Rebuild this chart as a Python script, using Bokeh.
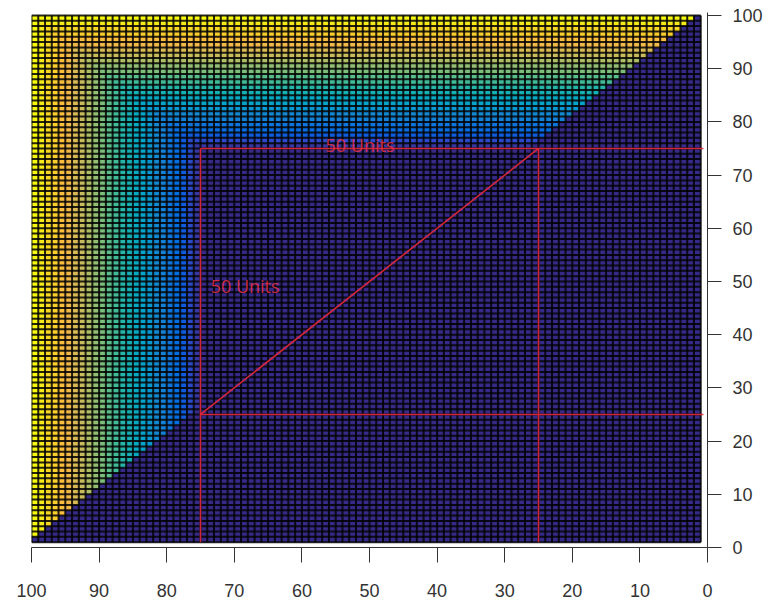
import numpy as np
from bokeh.plotting import figure
from bokeh.models import Range1d, LinearAxis, FixedTicker, LinearColorMapper, ColumnDataSource
from bokeh.core.properties import value
from bokeh.embed import file_html
from bokeh.resources import INLINE

# ---------------- data ----------------
# mesh vertex coordinates (surface drawn on a 1..100 grid)
mesh_x = list(range(1, 101))
mesh_y = list(range(1, 101))
# guide square (red) limits
square_lo = 25
square_hi = 75
# colour scale limits (distance beyond the square edge)
level_low = 0
level_high = 25
# diagonal that separates the coloured triangle from the dark one
diag_sum = 101
# axis ticks
x_ticks = [0, 10, 20, 30, 40, 50, 60, 70, 80, 90, 100]
y_ticks = [0, 10, 20, 30, 40, 50, 60, 70, 80, 90, 100]
# red guide lines
guide_xs = [[75, 75], [25, 25], [75, 0.6], [75, 0.6], [75, 25]]
guide_ys = [[1, 75], [1, 75], [75, 75], [25, 25], [25, 75]]
# annotations
note_text = ["50 Units", "50 Units"]
note_x = [56.5, 73.5]
note_y = [75.7, 49.1]

# ---------------- parula colormap ----------------
parula_rgb = [
    [0.2081, 0.1663, 0.5292], [0.2116, 0.1898, 0.5777], [0.2123, 0.2138, 0.6270], [0.2081, 0.2386, 0.6771],
    [0.1959, 0.2645, 0.7279], [0.1707, 0.2919, 0.7792], [0.1253, 0.3242, 0.8303], [0.0591, 0.3598, 0.8683],
    [0.0117, 0.3875, 0.8820], [0.0060, 0.4086, 0.8828], [0.0165, 0.4266, 0.8786], [0.0329, 0.4430, 0.8720],
    [0.0498, 0.4586, 0.8641], [0.0629, 0.4737, 0.8554], [0.0723, 0.4887, 0.8467], [0.0779, 0.5040, 0.8384],
    [0.0793, 0.5200, 0.8312], [0.0749, 0.5375, 0.8263], [0.0641, 0.5570, 0.8240], [0.0488, 0.5772, 0.8228],
    [0.0343, 0.5966, 0.8199], [0.0265, 0.6137, 0.8135], [0.0239, 0.6287, 0.8038], [0.0231, 0.6418, 0.7913],
    [0.0228, 0.6535, 0.7768], [0.0267, 0.6642, 0.7607], [0.0384, 0.6743, 0.7436], [0.0590, 0.6838, 0.7254],
    [0.0843, 0.6928, 0.7062], [0.1133, 0.7015, 0.6859], [0.1453, 0.7098, 0.6646], [0.1801, 0.7177, 0.6424],
    [0.2178, 0.7250, 0.6193], [0.2586, 0.7317, 0.5954], [0.3022, 0.7376, 0.5712], [0.3482, 0.7424, 0.5473],
    [0.3953, 0.7459, 0.5244], [0.4420, 0.7481, 0.5033], [0.4871, 0.7491, 0.4840], [0.5300, 0.7491, 0.4661],
    [0.5709, 0.7485, 0.4494], [0.6099, 0.7473, 0.4337], [0.6473, 0.7456, 0.4188], [0.6834, 0.7435, 0.4044],
    [0.7184, 0.7411, 0.3905], [0.7525, 0.7384, 0.3768], [0.7858, 0.7356, 0.3633], [0.8185, 0.7327, 0.3498],
    [0.8507, 0.7299, 0.3360], [0.8824, 0.7274, 0.3217], [0.9139, 0.7258, 0.3063], [0.9450, 0.7261, 0.2886],
    [0.9739, 0.7314, 0.2666], [0.9938, 0.7455, 0.2403], [0.9990, 0.7653, 0.2164], [0.9955, 0.7861, 0.1967],
    [0.9880, 0.8066, 0.1794], [0.9789, 0.8271, 0.1633], [0.9697, 0.8481, 0.1475], [0.9626, 0.8705, 0.1309],
    [0.9589, 0.8949, 0.1132], [0.9598, 0.9218, 0.0948], [0.9661, 0.9514, 0.0755], [0.9763, 0.9831, 0.0538],
]
parula = ["#%02x%02x%02x" % tuple(int(round(c * 255)) for c in rgb) for rgb in parula_rgb]

# ---------------- cells ----------------
left, right, bottom, top, val = [], [], [], [], []
for i in range(len(mesh_x) - 1):
    for j in range(len(mesh_y) - 1):
        x0, x1 = mesh_x[i], mesh_x[i + 1]
        y0, y1 = mesh_y[j], mesh_y[j + 1]
        cx, cy = (x0 + x1) / 2, (y0 + y1) / 2
        inside_square = (square_lo < cx < square_hi) and (square_lo < cy < square_hi)
        upper = (cx + cy) > diag_sum
        if upper and not inside_square:
            v = max(max(x1, y1) - square_hi, 0)
        else:
            v = level_low
        left.append(x0); right.append(x1); bottom.append(y0); top.append(y1); val.append(v)

cells = ColumnDataSource(dict(left=left, right=right, bottom=bottom, top=top, val=val))
mapper = LinearColorMapper(palette=parula, low=level_low, high=level_high)

# ---------------- figure ----------------
p = figure(width=768, height=601, output_backend="svg", toolbar_location=None,
           x_range=Range1d(100, 0), y_range=Range1d(0, 100.56),
           x_axis_location=None, y_axis_location=None,
           min_border_left=31, min_border_right=61, min_border_top=12, min_border_bottom=54)
p.outline_line_color = None
p.xgrid.visible = False
p.ygrid.visible = False
p.background_fill_color = "white"

p.quad(left="left", right="right", bottom="bottom", top="top", source=cells,
       fill_color={"field": "val", "transform": mapper}, line_color=None)

# mesh edges
grid_xs = [[x, x] for x in mesh_x] + [[mesh_x[0], mesh_x[-1]] for _ in mesh_y]
grid_ys = [[mesh_y[0], mesh_y[-1]] for _ in mesh_x] + [[y, y] for y in mesh_y]
p.multi_line(xs=grid_xs, ys=grid_ys, line_color="black", line_width=2.0, line_alpha=0.85)

# red guides
p.multi_line(xs=guide_xs, ys=guide_ys, line_color="#e8283c", line_width=1.6, line_alpha=0.9)
p.text(x=note_x, y=note_y, text=note_text, text_font=value("Open Sans"), text_font_size="18px",
       text_color="#e8304a", text_alpha=0.85, text_align="left", text_baseline="alphabetic")

# axes
xa = LinearAxis(ticker=FixedTicker(ticks=x_ticks))
ya = LinearAxis(ticker=FixedTicker(ticks=y_ticks))
for ax in (xa, ya):
    ax.axis_line_color = "#333333"
    ax.major_tick_line_color = "#333333"
    ax.major_tick_in = 0
    ax.minor_tick_line_color = None
    ax.major_label_text_font = "Liberation Sans"
    ax.major_label_text_font_size = "18px"
    ax.major_label_text_color = "#333333"
    ax.major_label_text_line_height = 0.9
xa.major_tick_out = 15
xa.major_label_standoff = 21
ya.major_tick_out = 14
ya.major_label_standoff = 11
p.add_layout(xa, "below")
p.add_layout(ya, "right")

open("out.html", "w").write(file_html(p, INLINE))
